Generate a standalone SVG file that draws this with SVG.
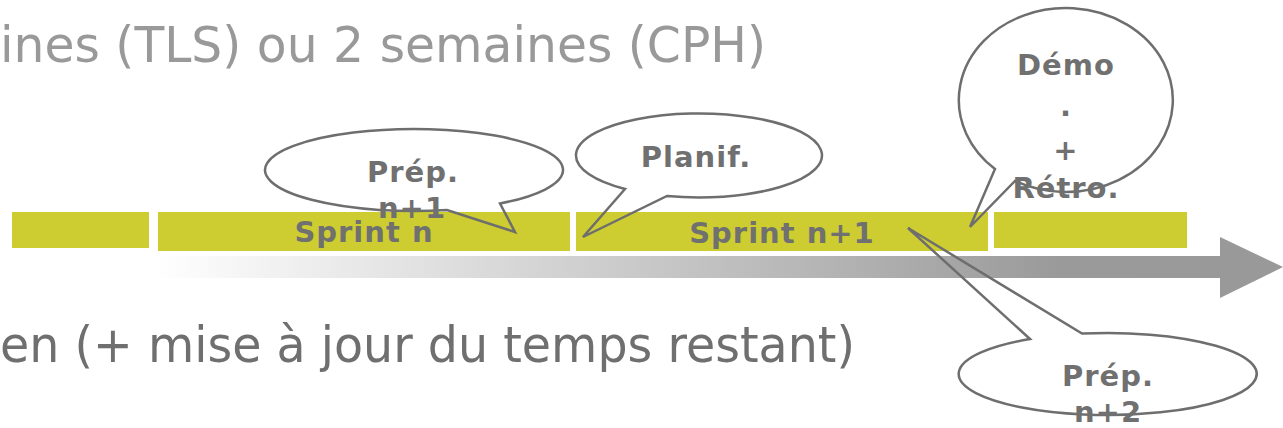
<svg xmlns="http://www.w3.org/2000/svg" width="1283" height="428" viewBox="0 0 1283 428">
<defs>
<linearGradient id="band" x1="152" y1="0" x2="1220" y2="0" gradientUnits="userSpaceOnUse">
<stop offset="0" stop-color="#ffffff"/>
<stop offset="0.85" stop-color="#9a9a9a"/>
<stop offset="1" stop-color="#999999"/>
</linearGradient>
<style>
.big{font-family:"DejaVu Sans",Verdana,sans-serif;font-size:50px}
.bar{fill:#CDCD31}
.lbl{font-family:"DejaVu Sans",Verdana,sans-serif;font-weight:bold;font-size:29px;fill:#707070;text-anchor:middle;letter-spacing:1px}
.bub{fill:none;stroke:#6e6e6e;stroke-width:2.5;stroke-linejoin:miter}
</style>
</defs>
<rect width="1283" height="428" fill="#ffffff"/>
<text class="big" x="0" y="62" fill="#999999" textLength="766" lengthAdjust="spacingAndGlyphs">ines (TLS) ou 2 semaines (CPH)</text>
<text class="big" x="0" y="362" fill="#6f6f6f" textLength="855" lengthAdjust="spacingAndGlyphs">en (+ mise à jour du temps restant)</text>
<g id="timeline">
<rect x="152" y="256" width="1068" height="22" fill="url(#band)"/>
<polygon points="1220,237 1283,267 1220,298" fill="#999999"/>
</g>
<g id="bar0"><rect class="bar" x="12" y="212" width="137" height="36"/></g>
<g id="sprint-n"><rect class="bar" x="158" y="212" width="412" height="39"/><text class="lbl" x="364" y="242">Sprint n</text></g>
<g id="sprint-n1"><rect class="bar" x="576" y="212" width="412" height="39"/><text class="lbl" x="782" y="243">Sprint n+1</text></g>
<g id="bar3"><rect class="bar" x="994" y="212" width="193" height="36"/></g>
<g id="connectors">
<path class="bub" d="M447,210 A149,41 0 1 1 500,203.5 L515,232 Z"/>
<path class="bub" d="M625,189 A123,42 0 1 1 667,196 L583,237 Z"/>
<path class="bub" d="M995,169 A107,92 0 1 1 1015,181 L970,227 Z"/>
<path class="bub" d="M1082,333.6 A149,41 0 1 1 1030,339 L908,228 Z"/>
</g>
<g id="prep-n1"><text class="lbl" x="413" y="182">Prép.</text><text class="lbl" x="412" y="218">n+1</text></g>
<g id="planif"><text class="lbl" x="696" y="167">Planif.</text></g>
<g id="demo"><text class="lbl" x="1066" y="75">Démo</text><text class="lbl" x="1066" y="116">.</text><text class="lbl" x="1066" y="160">+</text><text class="lbl" x="1066" y="198">Rétro.</text></g>
<g id="prep-n2"><text class="lbl" x="1108" y="386">Prép.</text><text class="lbl" x="1108" y="422">n+2</text></g>
</svg>
